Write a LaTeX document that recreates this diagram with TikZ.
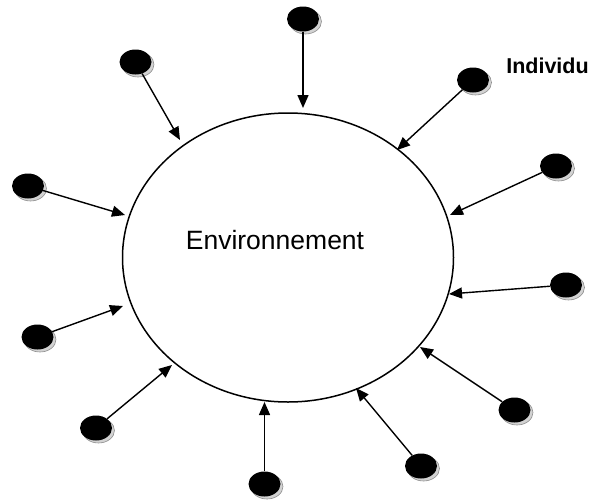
\documentclass[tikz,border=0pt]{standalone}
\usepackage{fontspec}
\setmainfont{Liberation Sans}
\usetikzlibrary{shapes.geometric,arrows.meta,shadows}
\begin{document}
\begin{tikzpicture}[x=1pt,y=-1pt,
  dot/.style={ellipse,fill=black,minimum width=32pt,minimum height=25pt,inner sep=0pt,
    general shadow={shadow xshift=2.5pt,shadow yshift=-2.5pt,fill=gray!35,draw=gray!90,line width=0.6pt}},
  arr/.style={line width=1.4pt,-{Triangle[length=13pt,width=11pt]}},
  env/.style={ellipse,draw,line width=1.5pt,minimum width=331pt,minimum height=289pt,inner sep=0pt}]
\useasboundingbox (0,0) rectangle (597,501);
\node[env] (E) at (288,257.5) {};
\node[anchor=base,font=\fontsize{26.5}{30}\selectfont] (lab) at (275,249) {Environnement};
\node[anchor=base,font=\fontsize{21.5}{24}\selectfont\bfseries] (ind) at (547.5,73) {Individu};
\node[dot] (d1) at (303,19) {};
\node[dot] (d2) at (135.5,62) {};
\node[dot] (d3) at (473,80) {};
\node[dot] (d4) at (556,166) {};
\node[dot] (d5) at (566,285) {};
\node[dot] (d6) at (514.5,410) {};
\node[dot] (d7) at (421,466) {};
\node[dot] (d8) at (264.5,484) {};
\node[dot] (d9) at (96,428) {};
\node[dot] (d10) at (37.5,337) {};
\node[dot] (d11) at (28,186) {};
\coordinate (t1) at (303,108);
\coordinate (t2) at (180,140);
\coordinate (t3) at (397,150);
\coordinate (t4) at (450,215);
\coordinate (t5) at (449,294);
\coordinate (t6) at (420,347);
\coordinate (t7) at (356,388);
\coordinate (t8) at (264.5,402);
\coordinate (t9) at (172,365);
\coordinate (t10) at (123,306);
\coordinate (t11) at (125,215);
\foreach \i in {1,...,11}{\draw[arr] (d\i) -- (t\i);}
\end{tikzpicture}
\end{document}
